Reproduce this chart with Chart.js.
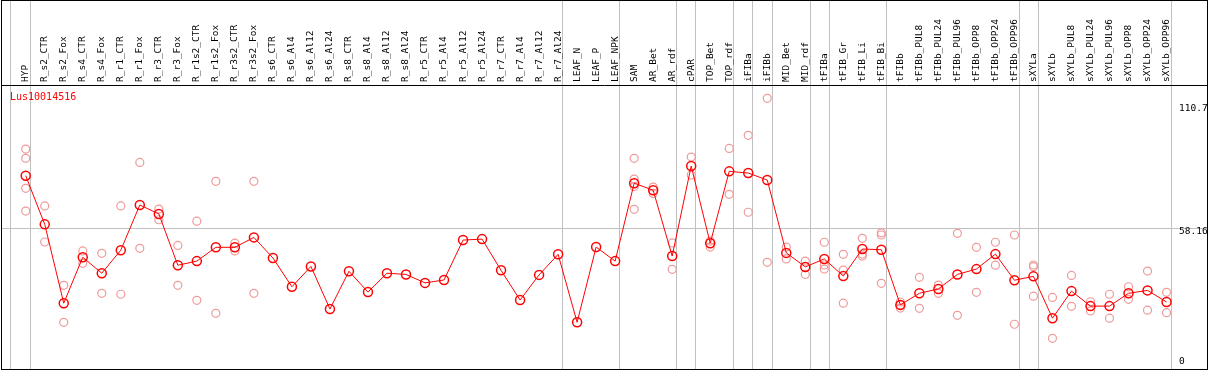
<!DOCTYPE html>
<html>
<head>
<meta charset="utf-8">
<script src="https://cdn.jsdelivr.net/npm/chart.js"></script>
<style>
  html, body { margin: 0; padding: 0; background: #fff; }
</style>
</head>
<body>
<canvas id="chart" width="1209" height="370"></canvas>
<script>
const geneName = 'Lus10014516';

const categories = [
    'HYP', 'R_s2_CTR', 'R_s2_Fox', 'R_s4_CTR', 'R_s4_Fox', 'R_r1_CTR', 'R_r1_Fox', 'R_r3_CTR', 'R_r3_Fox',
    'R_r1s2_CTR', 'R_r1s2_Fox', 'R_r3s2_CTR', 'R_r3s2_Fox', 'R_s6_CTR', 'R_s6_Al4', 'R_s6_Al12', 'R_s6_Al24',
    'R_s8_CTR', 'R_s8_Al4', 'R_s8_Al12', 'R_s8_Al24', 'R_r5_CTR', 'R_r5_Al4', 'R_r5_Al12', 'R_r5_Al24',
    'R_r7_CTR', 'R_r7_Al4', 'R_r7_Al12', 'R_r7_Al24', 'LEAF_N', 'LEAF_P', 'LEAF_NPK', 'SAM', 'AR_Bet', 'AR_rdf',
    'cPAR', 'TOP_Bet', 'TOP_rdf', 'iFIBa', 'iFIBb', 'MID_Bet', 'MID_rdf', 'tFIBa', 'tFIB_Gr', 'tFIB_Li', 'tFIB_Bi',
    'tFIBb', 'tFIBb_PUL8', 'tFIBb_PUL24', 'tFIBb_PUL96', 'tFIBb_OPP8', 'tFIBb_OPP24', 'tFIBb_OPP96',
    'sXYLa', 'sXYLb', 'sXYLb_PUL8', 'sXYLb_PUL24', 'sXYLb_PUL96', 'sXYLb_OPP8', 'sXYLb_OPP24', 'sXYLb_OPP96'
];

// mean expression per sample
const means = [
    79.9, 59.8, 27.2, 46.2, 39.6, 49.1, 67.8, 64.1, 42.9,
    44.6, 50.3, 50.3, 54.4, 45.9, 34.0, 42.4, 24.8,
    40.4, 31.8, 39.6, 39.1, 35.6, 36.8, 53.3, 53.7,
    40.8, 28.5, 38.9, 47.4, 19.3, 50.4, 44.6, 76.8, 73.9, 46.7,
    83.9, 52.0, 81.7, 81.0, 78.1, 48.0, 42.2, 45.5, 38.4, 49.6, 49.3,
    26.5, 31.3, 33.1, 39.1, 41.3, 47.5, 36.7,
    38.3, 21.0, 32.2, 26.0, 26.0, 31.3, 32.5, 27.7
];

// single replicates (empty where none are shown)
const replicates = [
    [90.9, 87.1, 74.7, 65.3], [67.4, 52.5], [34.6, 19.3], [48.8, 43.7], [47.8, 31.3], [67.4, 30.9], [85.4, 49.9], [66.1, 61.7], [51.1, 34.6],
    [61.1, 28.4], [77.6, 23.0], [52.0, 48.8], [77.6, 31.3], [], [], [], [],
    [], [], [], [], [], [], [], [],
    [], [], [], [], [], [], [], [87.1, 78.5, 75.4, 66.0], [75.2, 72.6], [52.1, 41.2],
    [87.6, 80.2], [52.9, 50.4], [91.2, 72.2], [96.6, 64.8], [111.9, 44.1], [50.4, 45.5], [44.6, 39.1], [52.4, 43.0, 41.3], [47.4, 40.9, 27.2], [54.0, 47.5, 46.7], [56.3, 55.4, 35.4],
    [27.7, 26.5, 25.2], [37.9, 25.1], [34.7, 31.3], [56.1, 22.2], [50.3, 31.7], [52.4, 42.9], [55.4, 18.5],
    [43.0, 42.3, 30.1], [29.6, 12.7], [38.7, 25.9], [27.8, 24.0], [30.9, 21.0], [34.0, 28.8], [40.5, 24.3], [31.7, 23.3]
];

// separators between sample groups (category index units)
const groupBreaks = [-0.8, 0.25, 28.25, 31.25, 34.25, 35.25, 37.25, 38.25, 39.25, 41.25, 42.25, 45.25, 52.25, 53.25, 60.25];

const yTicks = [0, 58.16, 110.7];
const yMax = 117.4;
const xMin = -1.3, xMax = 60.55;

const labelFont = { family: "'DejaVu Sans Mono', monospace", size: 9.5 };
const axisFont = { family: "'DejaVu Sans Mono', monospace", size: 9.5, lineHeight: '7px' };

const meanPoints = means.map((v, i) => ({ x: i, y: v }));
const repPoints = [];
replicates.forEach((vals, i) => vals.forEach(v => repPoints.push({ x: i, y: v })));

// outer frame, header line and gene name
const framePlugin = {
    id: 'frame',
    afterDraw(chart) {
        const c = chart.ctx;
        const area = chart.chartArea;
        c.save();
        c.strokeStyle = '#000';
        c.lineWidth = 1;
        c.strokeRect(1.5, 0.5, 1206, 369);
        c.beginPath();
        c.moveTo(1, area.top + 0.5);
        c.lineTo(1208, area.top + 0.5);
        c.stroke();
        c.fillStyle = '#ff0000';
        c.font = "10px 'DejaVu Sans Mono', monospace";
        c.textBaseline = 'middle';
        c.fillText(geneName, area.left + 9, area.top + 12.5);
        c.restore();
    }
};

const ctx = document.getElementById('chart').getContext('2d');
new Chart(ctx, {
    type: 'line',
    data: {
        datasets: [
            {
                label: 'mean',
                data: meanPoints,
                borderColor: '#ff0000',
                borderWidth: 1,
                pointRadius: 4.5,
                pointBorderWidth: 1.5,
                pointBorderColor: '#ff0000',
                pointBackgroundColor: 'rgba(0,0,0,0)',
                order: 0
            },
            {
                label: 'replicates',
                type: 'scatter',
                data: repPoints,
                showLine: false,
                pointRadius: 4,
                pointBorderWidth: 1.2,
                pointBorderColor: '#ee9a9a',
                pointBackgroundColor: 'rgba(0,0,0,0)',
                order: 1
            }
        ]
    },
    options: {
        responsive: false,
        animation: false,
        layout: { autoPadding: false, padding: { left: 1, right: 2, top: 0, bottom: 1 } },
        plugins: {
            legend: { display: false },
            tooltip: { enabled: false }
        },
        scales: {
            x: {
                type: 'linear',
                position: 'top',
                weight: 1,
                min: xMin,
                max: xMax,
                afterBuildTicks: s => { s.ticks = categories.map((c, i) => ({ value: i })); },
                afterFit: s => {
                    s.height = 85;
                    s.paddingLeft = 0;
                    s.paddingRight = 0;
                },
                grid: { display: false, drawTicks: false },
                border: { display: false },
                ticks: {
                    autoSkip: false,
                    minRotation: 90,
                    maxRotation: 90,
                    padding: 3,
                    labelOffset: 11.4,
                    color: '#000',
                    font: labelFont,
                    callback: v => categories[v]
                }
            },
            xg: {
                type: 'linear',
                position: 'top',
                weight: 0,
                min: xMin,
                max: xMax,
                afterBuildTicks: s => { s.ticks = groupBreaks.map(v => ({ value: v })); },
                afterFit: s => {
                    s.height = 0;
                    s.paddingLeft = 0;
                    s.paddingRight = 0;
                },
                ticks: { display: false },
                grid: { color: '#c0c0c0', lineWidth: 1, drawTicks: true, tickLength: 85 },
                border: { display: false }
            },
            y: {
                position: 'right',
                min: 0,
                max: yMax,
                afterBuildTicks: s => { s.ticks = yTicks.map(v => ({ value: v })); },
                afterFit: s => { s.width = 30; },
                grid: {
                    color: c => (c.tick && c.tick.value === 58.16) ? '#c0c0c0' : 'rgba(0,0,0,0)',
                    drawTicks: true,
                    tickLength: 30
                },
                border: { display: false },
                ticks: {
                    autoSkip: false,
                    padding: -28,
                    color: '#000',
                    font: axisFont,
                    // nudge labels: top one down, middle below its line, 0 above the bottom edge
                    callback: v => {
                        if (v === 0) return ['0', '', ''];
                        if (v === 110.7) return ['', '', '110.7'];
                        return ['', String(v)];
                    }
                }
            }
        }
    },
    plugins: [framePlugin]
});
</script>
</body>
</html>
